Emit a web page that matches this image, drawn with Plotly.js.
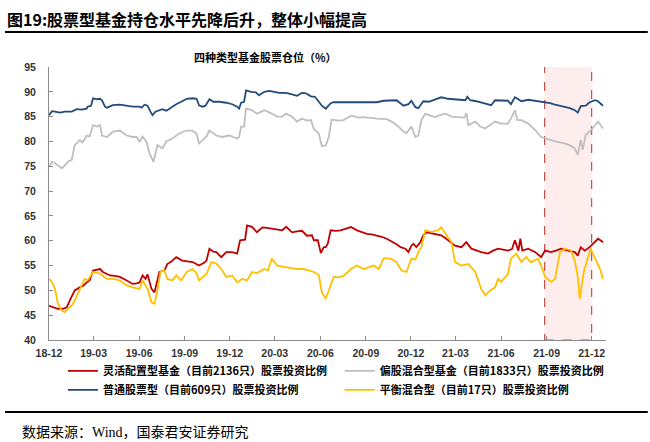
<!DOCTYPE html>
<html><head><meta charset="utf-8">
<script src="https://cdn.plot.ly/plotly-3.0.1.min.js"></script>
<style>html,body{margin:0;padding:0;background:#fff;}#chart{width:650px;height:442px;}</style>
</head><body><div id="chart"></div>
<script>
// 灵活配置型基金（目前2136只）股票投资比例
const datesFlex = ['2018-12-01','2018-12-09','2018-12-19','2018-12-29','2019-01-06','2019-01-12','2019-01-22','2019-02-01','2019-02-09','2019-02-15','2019-02-21','2019-02-28','2019-03-08','2019-03-14','2019-03-20','2019-04-03','2019-04-13','2019-04-23','2019-05-07','2019-05-19','2019-05-27','2019-06-02','2019-06-08','2019-06-14','2019-06-18','2019-06-26','2019-07-02','2019-07-08','2019-07-12','2019-07-22','2019-07-28','2019-08-05','2019-08-15','2019-08-27','2019-09-06','2019-09-17','2019-09-30','2019-10-11','2019-10-15','2019-10-21','2019-10-29','2019-11-04','2019-11-14','2019-11-24','2019-12-06','2019-12-16','2019-12-22','2020-01-01','2020-01-05','2020-01-15','2020-01-25','2020-02-05','2020-02-14','2020-02-24','2020-03-06','2020-03-16','2020-03-24','2020-04-05','2020-04-15','2020-04-25','2020-05-05','2020-05-15','2020-05-19','2020-05-27','2020-06-02','2020-06-08','2020-06-12','2020-06-16','2020-06-22','2020-07-02','2020-07-12','2020-07-24','2020-08-02','2020-08-14','2020-08-24','2020-09-03','2020-09-13','2020-09-23','2020-10-03','2020-10-13','2020-10-21','2020-10-27','2020-11-02','2020-11-10','2020-11-16','2020-11-20','2020-11-26','2020-12-02','2020-12-06','2020-12-12','2020-12-20','2020-12-26','2021-01-02','2021-01-11','2021-01-19','2021-01-31','2021-02-09','2021-02-14','2021-02-23','2021-02-28','2021-03-13','2021-03-23','2021-04-02','2021-04-12','2021-04-22','2021-05-06','2021-05-16','2021-05-26','2021-06-05','2021-06-15','2021-06-23','2021-06-29','2021-07-06','2021-07-10','2021-07-14','2021-07-26','2021-08-09','2021-08-21','2021-08-29','2021-09-10','2021-09-20','2021-09-30','2021-10-14','2021-10-28','2021-11-03','2021-11-09','2021-11-17','2021-11-27','2021-12-04','2021-12-14','2021-12-20','2021-12-24'];
const valsFlex = [46.9,46.6,46.3,46.3,46.6,48.0,50.0,50.6,51.0,51.6,52.0,54.0,54.2,54.3,53.7,53.0,52.9,52.7,52.0,51.3,51.4,51.6,53.0,52.3,53.2,50.3,49.6,52.0,53.7,54.0,55.3,55.8,56.7,56.0,55.9,55.7,55.0,55.6,56.0,58.4,57.8,57.7,56.7,57.7,57.7,57.4,60.1,60.2,63.1,62.8,61.7,62.7,62.6,62.4,62.3,62.1,62.8,61.7,61.9,62.0,61.0,61.1,60.1,60.1,57.5,58.7,58.7,59.4,62.1,62.0,62.1,62.4,62.75,62.1,61.8,61.4,61.3,61.1,60.8,60.4,60.0,59.7,59.3,58.7,58.6,58.4,57.7,59.0,59.4,58.7,59.7,61.1,61.7,61.5,61.4,61.1,60.5,60.1,59.5,59.0,58.7,59.7,58.4,58.0,57.7,57.4,58.0,58.4,58.2,58.0,58.3,60.1,58.0,60.4,58.0,58.4,57.7,56.7,58.0,57.7,58.0,58.4,58.0,57.7,57.0,58.7,58.0,58.7,59.4,60.4,60.0,59.7];

// 偏股混合型基金（目前1833只）股票投资比例
const datesMixed = ['2018-12-01','2018-12-07','2018-12-13','2018-12-17','2018-12-23','2018-12-27','2019-01-02','2019-01-08','2019-01-16','2019-01-22','2019-01-28','2019-02-01','2019-02-07','2019-02-15','2019-02-21','2019-02-28','2019-03-08','2019-03-14','2019-03-18','2019-03-28','2019-04-03','2019-04-09','2019-04-23','2019-05-07','2019-05-19','2019-05-27','2019-06-02','2019-06-08','2019-06-16','2019-06-22','2019-06-30','2019-07-08','2019-07-18','2019-07-26','2019-08-07','2019-08-21','2019-09-05','2019-09-17','2019-09-25','2019-09-30','2019-10-09','2019-10-15','2019-10-21','2019-11-04','2019-11-16','2019-11-30','2019-12-16','2019-12-20','2019-12-24','2019-12-30','2020-01-03','2020-01-15','2020-01-25','2020-02-05','2020-02-09','2020-02-24','2020-03-06','2020-03-16','2020-03-24','2020-04-05','2020-04-15','2020-04-25','2020-05-05','2020-05-13','2020-05-19','2020-05-25','2020-05-29','2020-06-04','2020-06-12','2020-06-18','2020-06-24','2020-07-08','2020-07-18','2020-08-02','2020-08-18','2020-08-27','2020-09-11','2020-09-23','2020-10-13','2020-10-23','2020-11-02','2020-11-16','2020-11-22','2020-12-02','2020-12-10','2020-12-16','2020-12-22','2020-12-30','2021-01-09','2021-01-19','2021-01-29','2021-02-09','2021-02-21','2021-03-07','2021-03-19','2021-03-23','2021-03-27','2021-04-10','2021-04-20','2021-04-30','2021-05-10','2021-05-20','2021-06-01','2021-06-15','2021-06-21','2021-06-29','2021-07-04','2021-07-12','2021-07-26','2021-08-09','2021-08-21','2021-08-29','2021-09-08','2021-09-18','2021-09-28','2021-10-08','2021-10-18','2021-10-28','2021-11-03','2021-11-09','2021-11-13','2021-11-19','2021-11-27','2021-12-08','2021-12-14','2021-12-24'];
const valsMixed = [74.9,75.9,75.6,75.3,75.0,74.6,75.2,75.9,76.3,79.3,79.8,80.3,79.8,81.2,81.0,83.3,83.0,83.3,81.2,80.9,81.4,82.0,82.2,81.2,80.9,80.9,79.9,81.0,79.9,77.6,75.9,79.3,78.6,80.0,80.6,81.6,82.2,82.2,81.5,79.6,80.4,81.0,82.2,81.2,80.9,81.2,80.6,80.9,83.0,83.0,86.6,86.3,85.6,86.0,86.3,85.6,85.0,85.0,85.6,85.0,84.0,84.6,84.2,84.3,82.5,82.0,81.5,79.1,79.2,80.9,84.4,84.2,84.3,85.2,84.8,84.9,84.7,84.6,84.5,84.0,83.3,82.0,81.7,83.0,80.9,81.2,84.3,85.6,85.2,84.9,85.3,85.6,85.0,84.9,84.8,85.7,83.3,84.0,83.0,82.6,83.3,84.0,83.6,83.6,84.6,86.3,84.3,84.3,83.6,82.3,80.9,80.6,80.3,80.0,79.8,79.6,79.2,78.6,77.3,80.3,78.3,81.3,82.0,83.3,84.0,82.6];

// 普通股票型（目前609只）股票投资比例
const datesStock = ['2018-12-01','2018-12-07','2018-12-13','2018-12-23','2019-01-02','2019-01-12','2019-01-16','2019-01-26','2019-02-05','2019-02-15','2019-02-17','2019-02-24','2019-02-28','2019-03-08','2019-03-14','2019-03-18','2019-03-24','2019-03-28','2019-04-09','2019-04-23','2019-05-07','2019-05-19','2019-06-02','2019-06-06','2019-06-12','2019-06-18','2019-06-24','2019-06-28','2019-07-04','2019-07-12','2019-07-18','2019-07-26','2019-08-07','2019-08-15','2019-08-25','2019-09-05','2019-09-17','2019-09-25','2019-09-30','2019-10-07','2019-10-13','2019-10-21','2019-10-29','2019-11-10','2019-11-24','2019-12-06','2019-12-16','2019-12-20','2019-12-24','2019-12-30','2020-01-03','2020-01-13','2020-01-23','2020-01-29','2020-02-09','2020-02-19','2020-03-10','2020-03-24','2020-04-05','2020-04-15','2020-04-25','2020-05-03','2020-05-13','2020-05-21','2020-05-29','2020-06-04','2020-06-12','2020-06-18','2020-06-22','2020-06-28','2020-07-18','2020-08-08','2020-08-27','2020-09-23','2020-10-07','2020-10-21','2020-11-02','2020-11-16','2020-11-26','2020-12-02','2020-12-10','2020-12-16','2020-12-26','2021-01-06','2021-01-19','2021-01-31','2021-02-14','2021-03-07','2021-03-21','2021-03-25','2021-03-31','2021-04-12','2021-04-22','2021-05-06','2021-05-12','2021-05-20','2021-06-01','2021-06-15','2021-06-21','2021-06-29','2021-07-06','2021-07-12','2021-07-26','2021-08-09','2021-08-19','2021-08-29','2021-09-08','2021-09-18','2021-09-28','2021-10-08','2021-10-18','2021-10-28','2021-11-03','2021-11-09','2021-11-19','2021-11-27','2021-12-08','2021-12-14','2021-12-24'];
const valsStock = [85.3,86.1,86.0,85.8,86.0,85.9,86.0,86.5,86.4,86.6,87.0,87.2,88.7,88.5,88.6,88.3,87.0,86.8,87.3,87.4,87.2,87.0,87.0,86.8,87.4,87.2,86.0,85.3,86.0,86.3,86.5,86.2,87.0,87.5,88.0,88.6,88.7,88.6,87.3,87.0,87.2,88.5,88.0,88.0,87.8,87.5,87.0,86.6,87.8,88.0,90.3,90.0,89.9,89.3,90.0,90.2,89.8,89.8,89.5,89.2,89.8,89.7,89.1,89.0,88.0,87.2,86.6,87.2,87.7,87.9,87.9,88.0,87.9,87.9,88.2,88.3,88.3,87.2,87.5,88.2,86.9,86.7,88.1,88.0,88.5,88.9,88.6,88.4,88.3,89.0,88.3,88.1,87.8,87.5,87.3,88.3,88.3,88.2,87.5,88.9,88.5,88.1,88.4,88.2,88.0,87.9,87.7,87.4,87.2,87.0,86.7,86.3,85.8,87.1,87.2,87.9,88.3,88.1,87.2];

// 平衡混合型（目前17只）股票投资比例
const datesBal = ['2018-12-01','2018-12-07','2018-12-13','2018-12-19','2018-12-27','2019-01-02','2019-01-08','2019-01-16','2019-01-22','2019-02-01','2019-02-11','2019-02-17','2019-02-28','2019-03-14','2019-03-28','2019-04-09','2019-04-23','2019-05-07','2019-05-19','2019-06-02','2019-06-08','2019-06-18','2019-06-26','2019-07-02','2019-07-08','2019-07-14','2019-07-22','2019-07-28','2019-08-07','2019-08-15','2019-08-25','2019-09-05','2019-09-17','2019-09-25','2019-09-30','2019-10-15','2019-10-25','2019-11-04','2019-11-14','2019-11-24','2019-12-06','2019-12-16','2019-12-26','2020-01-05','2020-01-15','2020-01-25','2020-02-09','2020-02-16','2020-02-24','2020-03-06','2020-03-20','2020-04-03','2020-04-15','2020-04-29','2020-05-09','2020-05-19','2020-05-29','2020-06-04','2020-06-12','2020-06-18','2020-06-28','2020-07-08','2020-07-18','2020-08-02','2020-08-14','2020-08-27','2020-09-07','2020-09-17','2020-09-27','2020-10-07','2020-10-21','2020-11-02','2020-11-12','2020-11-22','2020-12-02','2020-12-10','2020-12-16','2020-12-22','2020-12-30','2021-01-11','2021-01-25','2021-01-31','2021-02-11','2021-02-21','2021-02-28','2021-03-13','2021-03-27','2021-04-10','2021-04-22','2021-04-30','2021-05-10','2021-05-20','2021-05-26','2021-06-01','2021-06-15','2021-06-21','2021-07-02','2021-07-12','2021-07-22','2021-07-31','2021-08-15','2021-08-21','2021-08-29','2021-09-10','2021-09-18','2021-09-28','2021-10-08','2021-10-20','2021-10-28','2021-11-03','2021-11-07','2021-11-15','2021-11-23','2021-11-29','2021-12-08','2021-12-18','2021-12-24'];
const valsBal = [52.3,51.65,50.3,47.3,45.9,45.6,46.3,46.9,48.0,50.0,52.3,52.0,53.7,53.4,52.3,52.3,52.0,51.0,50.6,50.3,52.0,50.3,47.6,47.3,50.0,53.7,54.0,52.3,52.0,53.0,52.0,53.7,54.3,53.5,52.0,53.3,55.7,55.4,54.3,52.7,53.0,51.65,52.3,52.0,53.7,53.5,54.3,54.0,56.4,55.0,54.7,54.5,54.3,54.3,54.0,53.7,53.1,49.6,48.3,50.0,52.7,52.6,52.9,54.3,55.0,54.3,54.6,55.0,54.3,56.5,56.4,55.7,54.0,53.7,56.4,56.2,57.7,58.7,62.1,61.8,62.1,62.75,61.1,59.7,55.7,55.0,55.3,53.7,50.3,49.0,50.0,50.6,52.3,51.7,53.3,56.4,57.4,55.7,56.7,55.7,56.4,55.0,52.7,51.7,52.3,57.7,58.4,58.1,56.0,52.7,48.3,53.7,56.4,58.4,56.4,54.3,52.3];

const seriesNames = ['灵活配置型基金（目前2136只）股票投资比例','偏股混合型基金（目前1833只）股票投资比例','普通股票型（目前609只）股票投资比例','平衡混合型（目前17只）股票投资比例'];
const yTicks = [40,45,50,55,60,65,70,75,80,85,90,95];
const xTicks = ['2018-12-01','2019-03-01','2019-06-01','2019-09-01','2019-12-01','2020-03-01','2020-06-01','2020-09-01','2020-12-01','2021-03-01','2021-06-01','2021-09-01','2021-12-01'];
const xTickText = ['18-12','19-03','19-06','19-09','19-12','20-03','20-06','20-09','20-12','21-03','21-06','21-09','21-12'];
const highlight = {start:'2021-08-28', end:'2021-12-01', low:40, high:96.4};

const F = '"Liberation Sans", "Noto Sans CJK SC", sans-serif';
const FB = '"Noto Sans CJK SC", sans-serif';

const traces = [
  {x: datesFlex, y: valsFlex, name: seriesNames[0], legend:'legend', line:{color:'#C00000', width:1.8}},
  {x: datesMixed, y: valsMixed, name: seriesNames[1], legend:'legend2', line:{color:'#BFBFBF', width:1.8}},
  {x: datesStock, y: valsStock, name: seriesNames[2], legend:'legend', line:{color:'#234B7A', width:1.8}},
  {x: datesBal, y: valsBal, name: seriesNames[3], legend:'legend2', line:{color:'#FFC000', width:1.8}}
].map(t => Object.assign({type:'scatter', mode:'lines', hoverinfo:'skip'}, t));

const legendBase = {orientation:'v', xanchor:'left', y:-0.06, yanchor:'top', itemwidth:30,
  traceorder:'normal', font:{family:FB, size:11, color:'#000', weight:'bold'}, bgcolor:'rgba(0,0,0,0)'};

const layout = {
  width:650, height:442,
  margin:{l:49, r:44, t:67, b:102, autoexpand:false},
  paper_bgcolor:'#fff', plot_bgcolor:'#fff',
  showlegend:true,
  legend:Object.assign({x:0.025}, legendBase),
  legend2:Object.assign({x:0.522}, legendBase),
  xaxis:{type:'date', range:['2018-12-01','2021-12-30'], tickvals:xTicks, ticktext:xTickText,
    showgrid:false, zeroline:false, showline:true, linecolor:'#8C8C8C', linewidth:1,
    ticks:'inside', ticklen:4, tickcolor:'#8C8C8C', ticklabelstandoff:3,
    tickfont:{family:F, size:10.5, color:'#333', weight:'bold'}},
  yaxis:{range:[40,95], tickvals:yTicks, showgrid:false, zeroline:false, showline:true,
    linecolor:'#8C8C8C', linewidth:1, ticks:'inside', ticklen:4, tickcolor:'#8C8C8C', ticklabelstandoff:10,
    tickfont:{family:F, size:10.5, color:'#333', weight:'bold'}},
  shapes:[
    {type:'rect', xref:'x', yref:'y', x0:highlight.start, x1:highlight.end, y0:highlight.low, y1:highlight.high,
     fillcolor:'rgba(250,215,215,0.45)', line:{color:'#C0504D', width:1.2, dash:'dash'}, layer:'below'},
    {type:'line', xref:'paper', yref:'paper', x0:-0.079, x1:1.075, y0:1.128, y1:1.128, line:{color:'#000', width:2}},
    {type:'line', xref:'paper', yref:'paper', x0:-0.079, x1:1.075, y0:-0.264, y1:-0.264, line:{color:'#000', width:2}}
  ],
  annotations:[
    {text:'图19:股票型基金持仓水平先降后升，整体小幅提高', xref:'paper', yref:'paper', x:-0.079, y:1.176, xanchor:'left', yanchor:'middle', showarrow:false,
     font:{family:FB, size:16, color:'#000', weight:'bold'}},
    {text:'四种类型基金股票仓位（%）', xref:'paper', yref:'paper', x:0.388, y:1.037, xanchor:'center', yanchor:'middle', showarrow:false,
     font:{family:FB, size:11, color:'#000', weight:'bold'}},
    {text:'数据来源：Wind，国泰君安证券研究', xref:'paper', yref:'paper', x:-0.052, y:-0.337, xanchor:'left', yanchor:'middle', showarrow:false,
     font:{family:'"Liberation Serif", "Noto Sans CJK SC", serif', size:14, color:'#000'}}
  ]
};

Plotly.newPlot('chart', traces, layout, {staticPlot:true, displayModeBar:false});
</script></body></html>
